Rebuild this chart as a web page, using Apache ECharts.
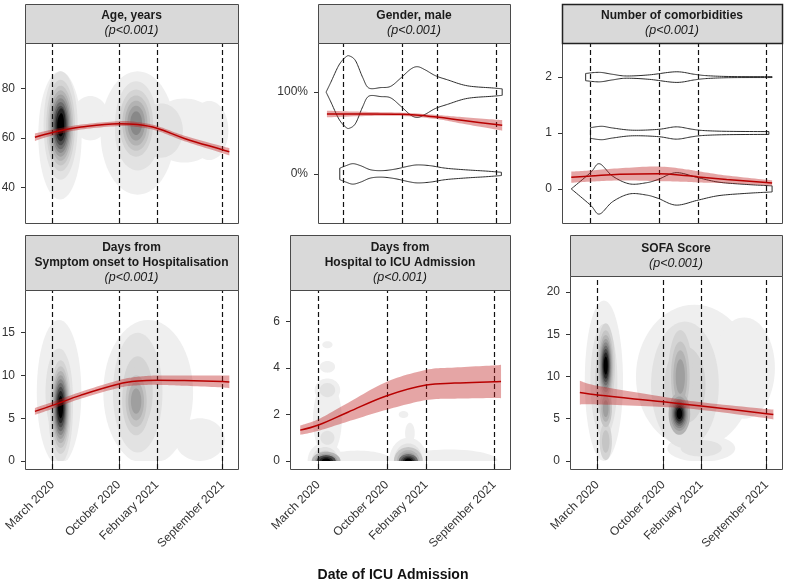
<!DOCTYPE html>
<html><head><meta charset="utf-8">
<script src="https://cdn.jsdelivr.net/npm/echarts@6/dist/echarts.min.js"></script>
<style>html,body{margin:0;padding:0;background:#fff}#c{width:787px;height:582px}</style>
</head><body><div id="c"></div>
<script>
// ---------- DATA ----------
const tickDates = ['2020-03-01','2020-10-01','2021-02-01','2021-09-01'];
const tickLabels = ['March 2020','October 2020','February 2021','September 2021'];

const ageTicks = [40,60,80];
const genderTicks = [0,1];
const genderTickLabels = ['0%','100%'];
const comorbTicks = [0,1,2];
const onsetTicks = [0,5,10,15];
const hospTicks = [0,2,4,6];
const sofaTicks = [0,5,10,15,20];

// smoothed trend: [date, fit, half CI]
const ageTrend = [['2020-01-04',60.3,1.5],['2020-03-01',62.2,1.2],['2020-06-01',64.4,1.0],['2020-10-01',65.8,1.0],['2020-12-01',65.4,1.0],['2021-02-01',63.9,1.0],['2021-05-01',59.8,1.1],['2021-09-01',55.2,1.4],['2021-09-23',54.4,1.5]];
const genderTrend = [['2020-01-04',0.732,0.04],['2020-06-01',0.733,0.025],['2020-10-01',0.728,0.02],['2021-02-01',0.695,0.025],['2021-05-01',0.655,0.04],['2021-09-01',0.603,0.06],['2021-09-23',0.594,0.065]];
const comorbTrend = [['2020-01-01',0.21,0.1],['2020-03-01',0.23,0.1],['2020-06-01',0.26,0.11],['2020-10-01',0.27,0.13],['2021-01-01',0.235,0.11],['2021-02-01',0.215,0.1],['2021-05-01',0.17,0.07],['2021-09-01',0.115,0.05],['2021-09-20',0.105,0.05]];
const onsetTrend = [['2020-01-04',5.8,0.4],['2020-03-01',6.5,0.4],['2020-06-01',7.7,0.4],['2020-10-01',9.0,0.45],['2020-12-01',9.35,0.5],['2021-02-01',9.45,0.55],['2021-05-01',9.4,0.6],['2021-09-01',9.3,0.7],['2021-09-23',9.25,0.75]];
const hospTrend = [['2020-01-04',1.33,0.2],['2020-03-01',1.55,0.25],['2020-06-01',2.1,0.4],['2020-10-01',2.81,0.6],['2021-02-01',3.27,0.65],['2021-05-01',3.35,0.67],['2021-09-01',3.41,0.7],['2021-09-23',3.42,0.72]];
const sofaTrend = [['2020-01-04',8.1,1.4],['2020-03-01',7.8,1.1],['2020-10-01',7.0,0.6],['2021-02-01',6.5,0.45],['2021-09-01',5.6,0.55],['2021-09-23',5.5,0.6]];

// violins: [date, half width]
const genderViolinMale = [['2020-01-01',0],['2020-01-18',0.12],['2020-02-16',0.33],['2020-03-12',0.43],['2020-03-26',0.44],['2020-04-16',0.38],['2020-05-11',0.18],['2020-06-02',0.05],['2020-07-15',0.055],['2020-08-19',0.07],['2020-09-24',0.17],['2020-10-30',0.28],['2020-11-24',0.31],['2020-12-22',0.27],['2021-01-27',0.2],['2021-03-11',0.15],['2021-05-21',0.077],['2021-08-22',0.05],['2021-09-23',0.04]];
const genderViolinFemale = [['2020-02-19',0.07],['2020-03-12',0.1],['2020-04-06',0.125],['2020-05-04',0.1],['2020-06-09',0.05],['2020-07-22',0.04],['2020-09-07',0.06],['2020-10-23',0.095],['2020-11-24',0.11],['2021-01-09',0.1],['2021-03-04',0.07],['2021-05-14',0.05],['2021-07-25',0.035],['2021-09-20',0.02]];
const comorbViolin0 = [['2020-01-01',0],['2020-03-01',0.29],['2020-03-29',0.45],['2020-05-09',0.23],['2020-07-01',0.09],['2020-08-23',0.11],['2020-09-29',0.17],['2020-11-24',0.29],['2021-02-01',0.2],['2021-04-07',0.12],['2021-07-01',0.08],['2021-09-01',0.06],['2021-09-20',0.055]];
const comorbViolin1 = [['2020-03-01',0.095],['2020-04-05',0.12],['2020-05-09',0.09],['2020-07-10',0.05],['2020-09-29',0.065],['2020-11-24',0.11],['2021-01-10',0.07],['2021-02-15',0.045],['2021-05-01',0.03],['2021-09-10',0.025]];
const comorbViolin2 = [['2020-02-15',0.065],['2020-03-29',0.085],['2020-05-09',0.05],['2020-06-21',0.02],['2020-09-01',0.04],['2020-11-24',0.095],['2021-01-20',0.05],['2021-03-01',0.025],['2021-05-15',0.01],['2021-09-20',0.008]];

// density clusters: [date, y, x-radius (days), y-radius, first level, last level]
const ageDensity = [['2020-03-25',61,70,26,1,2],['2020-03-27',65,55,22,2,11],['2020-03-29',67,13,5,10,11],['2020-07-01',68,60,9,1,1],['2020-12-01',62,120,25,1,2],['2020-11-26',66,68,17,2,7],['2021-05-01',63,115,13,1,1],['2021-07-20',63,62,12,1,1],['2021-02-15',63,70,11,2,2]];
const onsetDensity = [['2020-03-22',8,72,8.5,1,2],['2020-03-27',6.3,40,6.5,2,11],['2021-01-04',8,145,8.5,1,1],['2020-12-01',8,80,7,2,3],['2020-11-26',7,45,4,3,6],['2021-06-20',2.5,80,2.5,1,1]];
const hospDensity = [['2020-03-29',5.0,16,0.15,1,1],['2020-03-29',4.05,24,0.25,1,1],['2020-03-29',3.05,40,0.5,1,2],['2020-03-29',1.8,45,1.6,1,1],['2020-03-29',1.0,22,0.3,2,2],['2020-11-22',2.0,15,0.15,1,1],['2020-03-22',0,55,0.8,1,4],['2020-03-25',0,45,0.4,5,9],['2020-03-25',0,30,0.25,9,11],['2020-07-01',0,110,0.45,1,1],['2020-12-07',0,60,1.0,1,4],['2020-12-12',1.2,15,0.45,1,1],['2020-12-07',0,45,0.6,4,8],['2020-12-07',0,30,0.3,8,11],['2021-04-15',0,150,0.5,1,1]];
const sofaDensity = [['2020-03-22',9.5,62,9.5,1,3],['2020-03-28',11.3,30,5,3,11],['2020-03-28',6.2,20,2.2,4,6],['2020-03-28',2.3,20,2.2,3,4],['2021-01-10',10,190,8.5,1,1],['2021-06-20',11,100,6,1,1],['2020-12-10',9,110,7.5,2,3],['2020-11-25',10,40,5.5,3,6],['2020-11-22',5.6,35,2.5,5,11],['2021-02-01',1.5,110,1.6,1,2]];

// ---------- RENDER ----------
const T = s => Date.parse(s);
const levelColors = ['#efefef','#e2e2e2','#d4d4d4','#c5c5c5','#b3b3b3','#9f9f9f','#888888','#6c6c6c','#4b4b4b','#262626','#000000'];
const xMin = T('2019-12-03'), xMax = T('2021-10-21');
const tickTs = tickDates.map(T);
const FONT = '"Liberation Sans", Arial, Helvetica, sans-serif';

const grids = [
  {left:25, top:43, width:213, height:180},
  {left:318, top:43, width:192, height:180},
  {left:562, top:43, width:220, height:180},
  {left:25, top:290, width:213, height:179},
  {left:290, top:290, width:220, height:179},
  {left:570, top:276, width:212, height:193}
];
const headers = [
  {box:[25,4,213,39], lines:['Age, years'], y0:16},
  {box:[318,4,192,39], lines:['Gender, male'], y0:16},
  {box:[562,4,220,39], lines:['Number of comorbidities'], y0:16},
  {box:[25,235,213,55], lines:['Days from','Symptom onset to Hospitalisation'], y0:248},
  {box:[290,235,220,55], lines:['Days from','Hospital to ICU Admission'], y0:248},
  {box:[570,235,212,41], lines:['SOFA Score'], y0:249}
];
const yCfg = [
  {min:25.5, max:98.5, ticks:ageTicks},
  {min:-0.6, max:1.6, ticks:genderTicks, labels:genderTickLabels},
  {min:-0.61, max:2.61, ticks:comorbTicks},
  {min:-0.94, max:20.0, ticks:onsetTicks},
  {min:-0.34, max:7.35, ticks:hospTicks},
  {min:-0.95, max:21.9, ticks:sofaTicks}
];

const xAxes = grids.map((g,i)=>({
  type:'value', gridIndex:i, min:xMin, max:xMax,
  axisLine:{show:false}, splitLine:{show:false},
  axisTick:{show:i>=3, customValues:tickTs, length:4, lineStyle:{color:'#333'}},
  axisLabel:{show:i>=3, customValues:tickTs, rotate:45, margin:14, fontSize:12, color:'#333', fontFamily:FONT,
    formatter:v=>tickLabels[tickTs.indexOf(v)] || ''}
}));
const yAxes = yCfg.map((c,i)=>({
  type:'value', gridIndex:i, min:c.min, max:c.max,
  axisLine:{show:false}, splitLine:{show:false},
  axisTick:{show:true, customValues:c.ticks, length:4, lineStyle:{color:'#333'}},
  axisLabel:{customValues:c.ticks, margin:10, fontSize:12, color:'#333', fontFamily:FONT,
    formatter:v=>c.labels ? c.labels[c.ticks.indexOf(v)] : String(v)}
}));

// smooth curve through pixel points (Catmull-Rom drawn as sampled cubic Bezier)
function smoothPx(p){
  const out = [p[0]];
  for(let i=0;i<p.length-1;i++){
    const p0 = p[i-1]||p[i], p1 = p[i], p2 = p[i+1], p3 = p[i+2]||p[i+1];
    const c1 = [p1[0]+(p2[0]-p0[0])/6, p1[1]+(p2[1]-p0[1])/6];
    const c2 = [p2[0]-(p3[0]-p1[0])/6, p2[1]-(p3[1]-p1[1])/6];
    for(let s=1;s<=12;s++){
      const t = s/12, u = 1-t;
      out.push([u*u*u*p1[0]+3*u*u*t*c1[0]+3*u*t*t*c2[0]+t*t*t*p2[0],
                u*u*u*p1[1]+3*u*u*t*c1[1]+3*u*t*t*c2[1]+t*t*t*p2[1]]);
    }
  }
  return out;
}

function densitySeries(gi, blobs, yFloor){
  const rings = [];
  blobs.forEach(b=>{
    const n = b[5]-b[4]+1;
    for(let i=0;i<n;i++){
      const f = Math.sqrt(Math.log((n+1)/(i+1))/Math.log(n+1));
      rings.push([T(b[0]), b[1], b[2]*f*864e5, b[3]*f, b[4]+i]);
    }
  });
  rings.sort((a,b)=>a[4]-b[4]);
  return {type:'custom', xAxisIndex:gi, yAxisIndex:gi, clip:true, z:1, silent:true, data:rings,
    renderItem:(params, api)=>{
      const c = api.coord([api.value(0), api.value(1)]);
      const sz = api.size([api.value(2), api.value(3)]);
      const floorPx = yFloor==null ? Infinity : api.coord([api.value(0), yFloor])[1];
      const pts = [];
      for(let k=0;k<64;k++){
        const t = k/64*2*Math.PI;
        pts.push([c[0]+sz[0]*Math.cos(t), Math.min(floorPx, c[1]+sz[1]*Math.sin(t))]);
      }
      return {type:'polygon', shape:{points:pts}, style:{fill:levelColors[api.value(4)-1]}};
    }};
}
function violinSeries(gi, level, pts){
  return {type:'custom', xAxisIndex:gi, yAxisIndex:gi, clip:true, z:2, silent:true, data:[[0]],
    renderItem:(params, api)=>{
      const up = smoothPx(pts.map(p=>api.coord([T(p[0]), level+p[1]])));
      const lo = smoothPx(pts.slice().reverse().map(p=>api.coord([T(p[0]), level-p[1]])));
      return {type:'polygon', shape:{points:up.concat(lo)},
        style:{fill:'none', stroke:'#2b2b2b', lineWidth:1}};
    }};
}
function ribbonSeries(gi, arr){
  return {type:'custom', xAxisIndex:gi, yAxisIndex:gi, clip:true, z:4, silent:true, data:[[0]],
    renderItem:(params, api)=>{
      const up = smoothPx(arr.map(r=>api.coord([T(r[0]), r[1]+r[2]])));
      const lo = smoothPx(arr.slice().reverse().map(r=>api.coord([T(r[0]), r[1]-r[2]])));
      return {type:'polygon', shape:{points:up.concat(lo)},
        style:{fill:'rgba(190,30,30,0.4)'}};
    }};
}
function trendSeries(gi, arr){
  const fit = arr.map(r=>[T(r[0]), r[1]]);
  return [
    ribbonSeries(gi, arr),
    {type:'line', xAxisIndex:gi, yAxisIndex:gi, symbol:'none', smooth:0.4, silent:true,
      data:fit, z:5, lineStyle:{color:'#b80000', width:1.5},
      markLine:{silent:true, symbol:['none','none'], label:{show:false}, animation:false, z:3,
        lineStyle:{type:[5,3], color:'#111', width:1.2},
        data:tickTs.map(t=>({xAxis:t}))}}
  ];
}

const series = [
  densitySeries(0, ageDensity, null),
  violinSeries(1, 1, genderViolinMale),
  violinSeries(1, 0, genderViolinFemale),
  violinSeries(2, 0, comorbViolin0),
  violinSeries(2, 1, comorbViolin1),
  violinSeries(2, 2, comorbViolin2),
  densitySeries(3, onsetDensity, 0),
  densitySeries(4, hospDensity, 0),
  densitySeries(5, sofaDensity, 0),
  ...trendSeries(0, ageTrend),
  ...trendSeries(1, genderTrend),
  ...trendSeries(2, comorbTrend),
  ...trendSeries(3, onsetTrend),
  ...trendSeries(4, hospTrend),
  ...trendSeries(5, sofaTrend)
];

const graphic = [];
grids.forEach((g,i)=>{
  graphic.push({type:'rect', z:100, silent:true, shape:{x:g.left+0.5, y:g.top+0.5, width:g.width, height:g.height},
    style:{fill:'none', stroke:'#4a4a4a', lineWidth:1}});
});
headers.forEach((h,i)=>{
  const [x,y,w,hh] = h.box;
  graphic.push({type:'rect', z:101, silent:true, shape:{x:x+0.5, y:y+0.5, width:w, height:hh},
    style:{fill:'#d9d9d9', stroke: i===2 ? '#222' : '#4a4a4a', lineWidth: i===2 ? 1.5 : 1}});
  const cx = x + w/2;
  h.lines.forEach((t,k)=>{
    graphic.push({type:'text', z:102, silent:true, x:cx, y:h.y0+15*k,
      style:{text:t, font:'bold 12px '+FONT, fill:'#1a1a1a', align:'center', verticalAlign:'middle'}});
  });
  graphic.push({type:'text', z:102, silent:true, x:cx, y:h.y0+15*h.lines.length,
    style:{text:'(p<0.001)', font:'italic 12.5px '+FONT, fill:'#1a1a1a', align:'center', verticalAlign:'middle'}});
});
graphic.push({type:'text', z:102, silent:true, x:393, y:575,
  style:{text:'Date of ICU Admission', font:'bold 14px '+FONT, fill:'#111', align:'center', verticalAlign:'middle'}});

const chart = echarts.init(document.getElementById('c'), null, {renderer:'canvas'});
chart.setOption({
  animation:false,
  backgroundColor:'#fff',
  grid: grids.map(g=>Object.assign({outerBoundsMode:'none', containLabel:false}, g)),
  xAxis: xAxes,
  yAxis: yAxes,
  series: series,
  graphic: graphic
});
</script></body></html>
